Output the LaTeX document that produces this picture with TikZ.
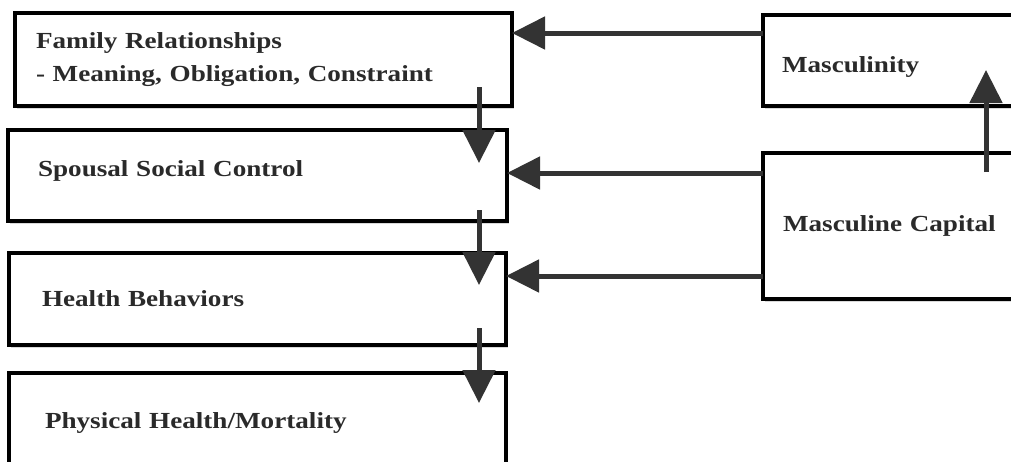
\documentclass[tikz,border=0pt]{standalone}
\usepackage{fontspec}
\setmainfont{Liberation Serif}[FakeStretch=1.18]
\usetikzlibrary{arrows.meta,shadows,positioning}
\definecolor{boxtext}{HTML}{2A2A2A}
\definecolor{flowgray}{HTML}{333333}
\tikzset{
  box/.style={draw=black, line width=3.2pt, fill=white, anchor=north west, outer sep=0pt,
    inner ysep=0pt, align=left, text=boxtext, font=\fontsize{23}{33}\selectfont\bfseries,
    drop shadow={opacity=0.3, shadow xshift=2pt, shadow yshift=-3pt}},
  flow/.style={draw=flowgray, line width=5pt, -{Triangle[length=33pt,width=32pt]}}
}

\begin{document}
\begin{tikzpicture}[x=1pt,y=-1pt]
  \useasboundingbox (0,0) rectangle (1011,461);
  \node[box, minimum width=497pt, minimum height=93pt, text width=455pt, inner xsep=21pt] (family) at (15,13) {Family Relationships\\- Meaning, Obligation, Constraint};
  \node[box, minimum width=499pt, minimum height=91pt, text width=439pt, inner xsep=30pt, text depth=14pt] (spousal) at (8,130) {Spousal Social Control};
  \node[box, minimum width=497pt, minimum height=92pt, text width=431pt, inner xsep=33pt] (behav) at (9,253) {Health Behaviors};
  \node[box, minimum width=497pt, minimum height=100pt, text width=425pt, inner xsep=36pt] (health) at (9,373) {Physical Health/Mortality};
  \node[box, minimum width=290pt, minimum height=91pt, text width=252pt, inner xsep=19pt, text height=23pt, text depth=0pt] (masc) at (763,15) {Masculinity};
  \node[box, minimum width=290pt, minimum height=146pt, text width=250pt, inner xsep=20pt] (capital) at (763,153) {Masculine Capital};
  \draw[flow] ([yshift=-18pt]masc.north west) -- ([yshift=26.5pt]family.east);
  \draw[flow] ([yshift=-20pt]capital.north west) -- ([yshift=2.5pt]spousal.east);
  \draw[flow] ([yshift=23pt]capital.south west) -- ([yshift=23pt]behav.east);
  \draw[flow] ([xshift=223pt,yshift=-19pt]capital.north west) -- ([xshift=223pt,yshift=36pt]masc.south west);
  \draw[flow] ([xshift=-33pt,yshift=19pt]family.south east) -- ([xshift=-28pt,yshift=-33pt]spousal.north east);
  \draw[flow] ([xshift=-28pt,yshift=11pt]spousal.south east) -- ([xshift=-27pt,yshift=-32pt]behav.north east);
  \draw[flow] ([xshift=-27pt,yshift=17pt]behav.south east) -- ([xshift=-27pt,yshift=-30pt]health.north east);
\end{tikzpicture}
\end{document}
